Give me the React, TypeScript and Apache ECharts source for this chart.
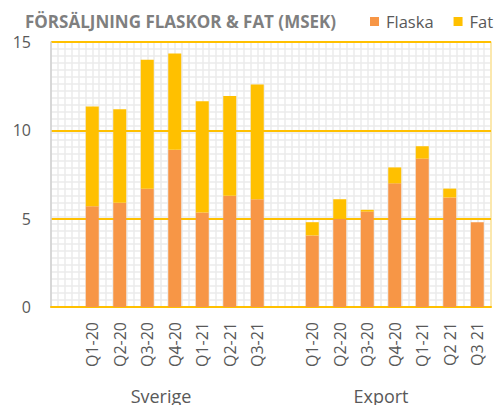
import React, { useEffect, useRef } from "react";
import * as echarts from "echarts";

const title = "FÖRSÄLJNING FLASKOR & FAT (MSEK)";
const groups = ["Sverige", "Export"];
const quartersSverige = ["Q1-20", "Q2-20", "Q3-20", "Q4-20", "Q1-21", "Q2-21", "Q3-21"];
const quartersExport = ["Q1-20", "Q2-20", "Q3-20", "Q4-20", "Q1-21", "Q2 21", "Q3 21"];
const flaskaSverige = [5.7, 5.9, 6.7, 8.9, 5.35, 6.3, 6.1];
const fatSverige = [5.65, 5.3, 7.3, 5.45, 6.3, 5.65, 6.5];
const flaskaExport = [4.05, 5.0, 5.4, 7.0, 8.4, 6.2, 4.8];
const fatExport = [0.75, 1.1, 0.1, 0.9, 0.7, 0.5, 0];
const yTicks = [0, 5, 10, 15];

const FONT = "'Open Sans', sans-serif";
const GOLD = "#FFC000";
const ORANGE = "#F79646";
const LABEL = "#595959";

export default function App() {
  const ref = useRef<HTMLDivElement>(null);
  useEffect(() => {
    const chart = echarts.init(ref.current!, null, { renderer: "svg" });
    const cats = ["", ...quartersSverige, "", ...quartersExport];
    const flaska = ["-", ...flaskaSverige, "-", ...flaskaExport];
    const fat = ["-", ...fatSverige, "-", ...fatExport];
    chart.setOption({
      animation: false,
      title: {
        text: title,
        left: 25,
        top: 13,
        padding: 0,
        textStyle: { fontFamily: FONT, fontSize: 17, fontWeight: "bold", color: "#7F7F7F" },
      },
      legend: {
        left: 370,
        top: 13,
        padding: 0,
        itemWidth: 9,
        itemHeight: 9,
        itemGap: 20,
        icon: "rect",
        textStyle: { fontFamily: FONT, fontSize: 16.5, color: LABEL, padding: [0, 0, 0, 2] },
        data: ["Flaska", "Fat"],
      },
      grid: { left: 51, right: 9, top: 42, bottom: 98, containLabel: false },
      xAxis: [
        {
          type: "category",
          data: cats,
          position: "bottom",
          z: 1,
          axisLine: { show: true, lineStyle: { color: GOLD, width: 2 } },
          axisTick: { show: false },
          axisLabel: {
            interval: 0,
            rotate: 90,
            margin: 15,
            fontFamily: FONT,
            fontSize: 16,
            color: LABEL,
          },
          splitLine: { show: false },
        },
        {
          type: "category",
          data: groups,
          position: "bottom",
          z: 1,
          axisLine: { show: false },
          axisTick: { show: false },
          axisLabel: { interval: 0, margin: 80, fontFamily: FONT, fontSize: 18, color: LABEL },
          splitLine: { show: false },
        },
        {
          type: "value",
          min: 0,
          max: 64,
          interval: 1,
          z: 0,
          axisLine: { show: false },
          axisTick: { show: false },
          axisLabel: { show: false },
          splitLine: { show: true, lineStyle: { color: "#EBEBEB", width: 1.5 } },
        },
      ],
      yAxis: [
        {
          type: "value",
          min: yTicks[0],
          max: yTicks[yTicks.length - 1],
          interval: 5,
          z: 1,
          axisLine: { show: true, lineStyle: { color: "#D0D0D0", width: 1.5 } },
          axisTick: { show: false },
          axisLabel: { margin: 20, fontFamily: FONT, fontSize: 16, color: LABEL },
          splitLine: { show: true, lineStyle: { color: GOLD, width: 2 } },
        },
        {
          type: "value",
          min: 0,
          max: 38,
          interval: 1,
          position: "right",
          z: 0,
          axisLine: { show: true, lineStyle: { color: "#FFE699", width: 1.5 } },
          axisTick: { show: false },
          axisLabel: { show: false },
          splitLine: { show: true, lineStyle: { color: "#EBEBEB", width: 1.5 } },
        },
      ],
      series: [
        {
          name: "Flaska",
          type: "bar",
          stack: "total",
          xAxisIndex: 0,
          yAxisIndex: 0,
          barWidth: 13,
          z: 3,
          itemStyle: { color: ORANGE },
          data: flaska,
        },
        {
          name: "Fat",
          type: "bar",
          stack: "total",
          xAxisIndex: 0,
          yAxisIndex: 0,
          barWidth: 13,
          z: 3,
          itemStyle: { color: GOLD },
          data: fat,
        },
      ],
    });
    return () => chart.dispose();
  }, []);
  return (
    <div
      ref={ref}
      style={{ position: "fixed", left: 0, top: 0, width: 500, height: 405, background: "#fff" }}
    />
  );
}
